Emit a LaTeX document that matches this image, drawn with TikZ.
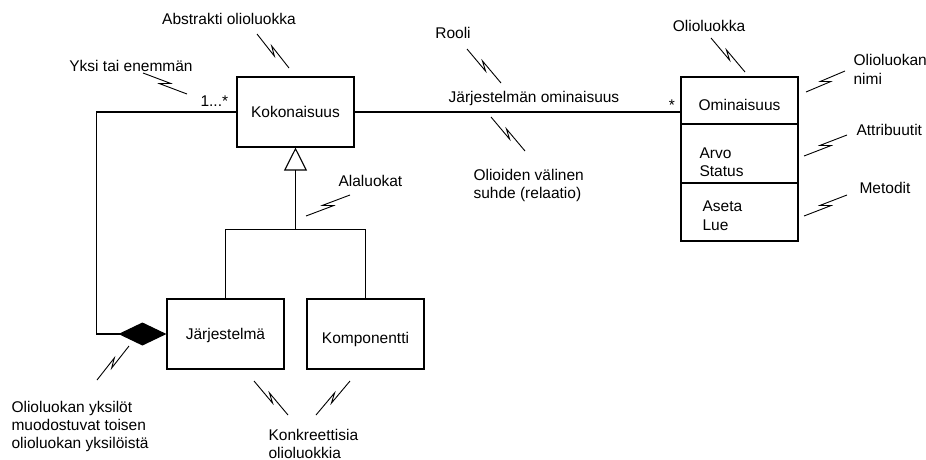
\documentclass[tikz,border=0pt]{standalone}
\usepackage{fontspec}
\setmainfont{Liberation Sans}
\usetikzlibrary{calc,arrows.meta}

% lightning-style pointer from an annotation to the element it explains;
% #3/#4 are the turning angles of the two kinks
\newcommand\zap[4]{%
  \draw[zapline] (#1)
    -- ($(#1)!0.6!(#2)!2.5pt!#3:(#2)$)
    -- ($(#1)!0.4!(#2)!2.5pt!#4:(#2)$)
    -- (#2);}

\begin{document}
\begin{tikzpicture}[x=1pt,y=-1pt,line width=1.1pt,
  every node/.style={font=\fontsize{15.5}{18.5}\selectfont,inner sep=0pt},
  classbox/.style={draw,minimum width=117pt,minimum height=70pt,
                   text height=11pt,text depth=0pt},
  compart/.style={draw,minimum width=117pt},
  lbl/.style={anchor=base},
  lblw/.style={anchor=base west},
  zapline/.style={line width=0.9pt,line join=miter}]
\useasboundingbox (0,0) rectangle (926,460);

% ---- classes ----
\node[classbox] (K) at (295.5,112) {Kokonaisuus};
\node[classbox] (J) at (225.5,334) {Järjestelmä};
\node[classbox,text height=18pt] (C) at (365.5,334) {Komponentti};

% class with name, attribute and method compartments
\node[compart,minimum height=47pt,text height=19pt,text depth=0pt] (O1) at (739.5,100.5) {Ominaisuus};
\node[compart,minimum height=59pt] (O2) at (739.5,153.5) {};
\node[compart,minimum height=58pt] (O3) at (739.5,212) {};
\node[lblw] at (699,158) {Arvo};
\node[lblw] at (699,176) {Status};
\node[lblw] at (702,211) {Aseta};
\node[lblw] at (702,230) {Lue};

% ---- association ----
\draw (K.east) -- (K.east -| O1.west);
\node[lbl] (rolename) at (534,102) {Järjestelmän ominaisuus};
\node[lbl] (multO) at (672,110) {*};

% ---- aggregation ----
\draw[{Diamond[length=48pt,width=23pt]}-] (J.west) -- ++(-70,0) |- (K.west);
\node[lblw] (multK) at (200,106) {1...*};

% ---- generalisation ----
\coordinate (bar) at ($(K.south)+(0,82)$);
\draw (J.north) |- (bar) -| (C.north);
\draw[-{Triangle[open,length=23pt,width=23pt]}] (bar) -- (K.south);

% ---- annotations ----
\node[lbl] at (229,24.5) {Abstrakti olioluokka};
\node[lbl] at (131,71.5) {Yksi tai enemmän};
\node[lbl] at (453,39) {Rooli};
\node[lblw] at (473,180) {Olioiden välinen};
\node[lblw] at (473,198) {suhde (relaatio)};
\node[lbl] at (709,32) {Olioluokka};
\node[lblw] at (853,66) {Olioluokan};
\node[lblw] at (853,84.5) {nimi};
\node[lblw] at (856,135) {Attribuutit};
\node[lblw] at (859,193) {Metodit};
\node[lblw] at (338,186) {Alaluokat};
\node[lblw] at (11,412) {Olioluokan yksilöt};
\node[lblw] at (11,430) {muodostuvat toisen};
\node[lblw] at (11,448) {olioluokan yksilöistä};
\node[lblw] at (268,440) {Konkreettisia};
\node[lblw] at (268,458) {olioluokkia};

% pointer end points
\coordinate (z1a) at (257,34);  \coordinate (z1b) at (289,68);
\coordinate (z2a) at (143,73);  \coordinate (z2b) at (187,94);
\coordinate (z3a) at (467,49);  \coordinate (z3b) at (501,83);
\coordinate (z4a) at (491,117); \coordinate (z4b) at (525,151);
\coordinate (z5a) at (711,38);  \coordinate (z5b) at (745,72);
\coordinate (z6a) at (845,71);  \coordinate (z6b) at (806,92);
\coordinate (z7a) at (847,135); \coordinate (z7b) at (804,156);
\coordinate (z8a) at (847,195); \coordinate (z8b) at (804,216);
\coordinate (z9a) at (350,195); \coordinate (z9b) at (306,216);
\coordinate (z10a) at (129,346); \coordinate (z10b) at (97,380);
\coordinate (z11a) at (254,381); \coordinate (z11b) at (288,415);
\coordinate (z12a) at (350,381); \coordinate (z12b) at (316,415);

\zap{z1a}{z1b}{-90}{90}
\zap{z2a}{z2b}{90}{-90}
\zap{z3a}{z3b}{-90}{90}
\zap{z4a}{z4b}{-90}{90}
\zap{z5a}{z5b}{-90}{90}
\zap{z6a}{z6b}{-90}{90}
\zap{z7a}{z7b}{-90}{90}
\zap{z8a}{z8b}{-90}{90}
\zap{z9a}{z9b}{-90}{90}
\zap{z10a}{z10b}{90}{-90}
\zap{z11a}{z11b}{-90}{90}
\zap{z12a}{z12b}{90}{-90}
\end{tikzpicture}
\end{document}
